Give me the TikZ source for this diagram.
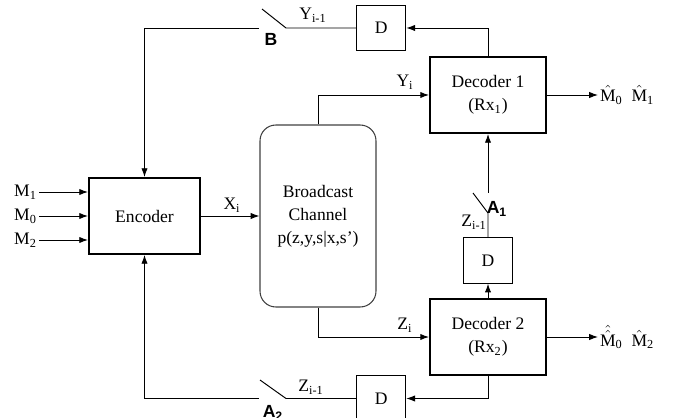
\documentclass[tikz,border=0pt]{standalone}
\usepackage{fontspec}
\setmainfont{Liberation Serif}
\newfontfamily\labelfont{Liberation Sans}
\usetikzlibrary{arrows.meta}

\begin{document}
\begin{tikzpicture}[x=0.02cm, y=-0.02cm, >={Latex[length=5pt,width=3.6pt]},
		font=\fontsize{10}{13}\selectfont,
		blockbox/.style={draw, line width=1.1pt, minimum height=1.52cm, align=center},
		delaybox/.style={draw, line width=0.5pt, minimum width=0.98cm, minimum height=0.91cm},
		wire/.style={line width=0.55pt},
		swlabel/.style={font=\labelfont\bfseries\fontsize{10}{12}\selectfont, inner sep=0pt}]
			\useasboundingbox (0,0) rectangle (675,418);
			% blocks
			\node[blockbox, minimum width=2.22cm] (enc) at (144.5,216) {Encoder};
			\node[draw=black!75, line width=0.6pt, rounded corners=9pt, minimum width=2.32cm, minimum height=3.64cm, align=center] (chan) at (318,216) {Broadcast\\Channel\\p(z,y,s|x,s’)};
			\node[blockbox, minimum width=2.32cm] (dec1) at (488,95) {Decoder 1\\(Rx\textsubscript{1})};
			\node[blockbox, minimum width=2.32cm] (dec2) at (488,337) {Decoder 2\\(Rx\textsubscript{2})};
			\node[delaybox] (dtop) at (381.3,28) {D};
			\node[delaybox] (dmid) at (488,260.5) {D};
			\node[delaybox] (dbot) at (381.3,398.5) {D};
			% inputs and outputs
			\node[anchor=east, inner sep=1pt] (m1) at (39,192) {M\textsubscript{1}};
			\node[anchor=east, inner sep=1pt] (m0) at (39,216) {M\textsubscript{0}};
			\node[anchor=east, inner sep=1pt] (m2) at (39,240) {M\textsubscript{2}};
			\node[anchor=west, inner sep=1pt] (out1) at (598,95) {$\hat{\mathrm{M}}$\textsubscript{0}\hspace{5pt}$\hat{\mathrm{M}}$\textsubscript{1}};
			\node[anchor=west, inner sep=1pt] (out2) at (598,337) {$\hat{\hat{\mathrm{M}}}$\textsubscript{0}\hspace{5pt}$\hat{\mathrm{M}}$\textsubscript{2}};
			\foreach \m in {m1,m0,m2}
				\draw[wire, ->] (\m.east) -- (\m.east -| enc.west);
			\draw[wire, ->] (dec1.east) -- (out1.west);
			\draw[wire, ->] (dec2.east) -- (out2.west);
			% channel
			\draw[wire, ->] (enc.east) -- (chan.west);
			\draw[wire, ->] (chan.north) |- (dec1.west);
			\draw[wire, ->] (chan.south) |- (dec2.west);
			% switch B
			\coordinate (bR) at (286,28);
			\coordinate (bT) at (262,9);
			\coordinate (bL) at (259,28);
			\draw[wire, ->] (dec1.north) |- (dtop.east);
			\draw[wire] (dtop.west) -- (bR) -- (bT);
			\draw[wire, ->] (bL) -| (enc.north);
			% switch A1
			\coordinate (a1B) at (488,213);
			\coordinate (a1T) at (473,193);
			\coordinate (a1U) at (488,193);
			\draw[wire, ->] (dec2.north) -- (dmid.south);
			\draw[wire] (dmid.north) -- (a1B) -- (a1T);
			\draw[wire, ->] (a1U) -- (dec1.south);
			% switch A2
			\coordinate (a2R) at (286,398.5);
			\coordinate (a2T) at (260,380);
			\coordinate (a2L) at (259,398.5);
			\draw[wire, ->] (dec2.south) |- (dbot.east);
			\draw[wire] (dbot.west) -- (a2R) -- (a2T);
			\draw[wire, ->] (a2L) -| (enc.south);
			% signal labels
			\node (xi) at (232,205) {X\textsubscript{i}};
			\node (yi) at (405,82) {Y\textsubscript{i}};
			\node (zi) at (405,325) {Z\textsubscript{i}};
			\node (yprev) at (313,15) {Y\textsubscript{i-1}};
			\node (zprevA) at (474,222) {Z\textsubscript{i-1}};
			\node (zprevB) at (311,387) {Z\textsubscript{i-1}};
			\node[swlabel] (labB) at (271,39) {B};
			\node[swlabel] (labA1) at (497,209) {A\textsubscript{1}};
			\node[swlabel] (labA2) at (273,413) {A\textsubscript{2}};
		\end{tikzpicture}
\end{document}
